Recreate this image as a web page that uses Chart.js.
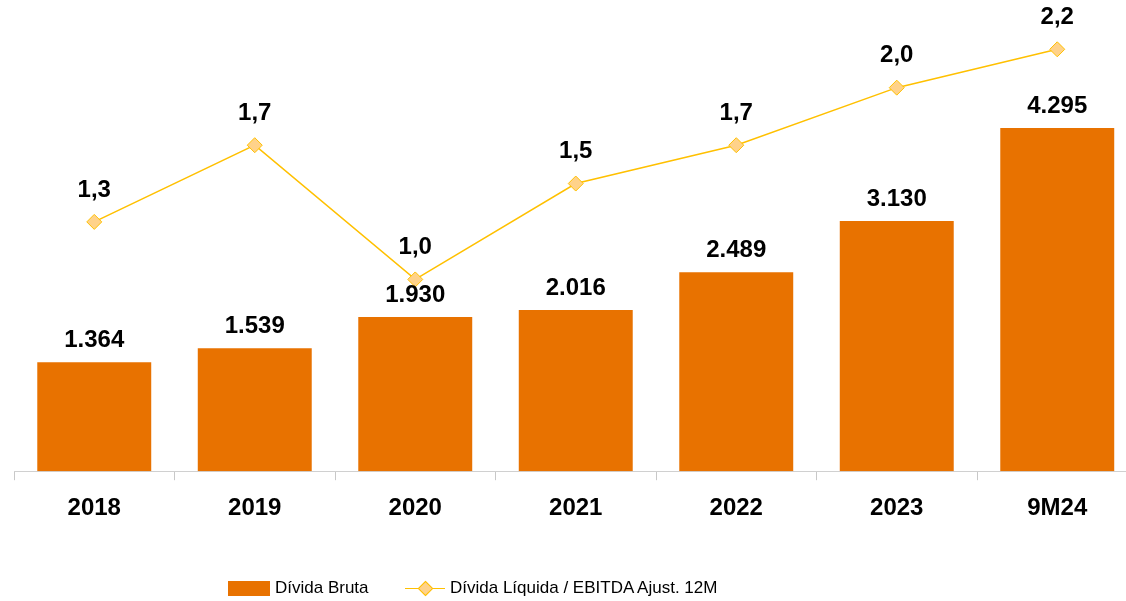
<!DOCTYPE html>
<html>
<head>
<meta charset="utf-8">
<script src="https://cdn.jsdelivr.net/npm/chart.js@4.4.1/dist/chart.umd.min.js"></script>
<style>
  html, body { margin: 0; padding: 0; background: #fff; overflow: hidden; }
  #wrap { position: relative; width: 1146px; height: 601px; }
  #legend { position: absolute; left: 0; top: 576px; width: 1126px; height: 24px;
            font-family: "Liberation Sans", Arial, sans-serif; font-size: 17px; color: #000; }
  .item { position: absolute; top: 0; height: 24px; line-height: 24px; white-space: nowrap; }
  .box { position: absolute; top: 5px; width: 42px; height: 15px; background: #E87200; }
  .ln { position: absolute; top: 11.5px; width: 40px; height: 1.5px; background: #FFC000; }
  .dm { position: absolute; top: 7px; width: 9px; height: 9px; background: #FFD28A; border: 1px solid #FFC000; transform: rotate(45deg); }
</style>
</head>
<body>
<div id="wrap">
  <canvas id="c" width="1146" height="601"></canvas>
  <div id="legend">
    <div class="item" style="left:228px;"><span class="box" style="left:0"></span><span style="position:absolute;left:47px;">Dívida Bruta</span></div>
    <div class="item" style="left:405px;"><span class="ln" style="left:0"></span><span class="dm" style="left:14.5px"></span><span style="position:absolute;left:45px;">Dívida Líquida / EBITDA Ajust. 12M</span></div>
  </div>
</div>
<script>
const categories = ["2018", "2019", "2020", "2021", "2022", "2023", "9M24"];
const dividaBruta = [1364, 1539, 1930, 2016, 2489, 3130, 4295];
const dividaLiquidaEbitda = [1.3, 1.7, 1.0, 1.5, 1.7, 2.0, 2.2];
const barLabels = ["1.364", "1.539", "1.930", "2.016", "2.489", "3.130", "4.295"];
const lineLabels = ["1,3", "1,7", "1,0", "1,5", "1,7", "2,0", "2,2"];

const FONT = '"Liberation Sans", Arial, sans-serif';

const labelPlugin = {
  id: 'valueLabels',
  afterDatasetsDraw(chart) {
    const ctx = chart.ctx;
    ctx.save();
    ctx.font = 'bold 24px ' + FONT;
    ctx.fillStyle = '#000';
    ctx.textAlign = 'center';
    ctx.textBaseline = 'middle';
    const barMeta = chart.getDatasetMeta(1);
    barMeta.data.forEach((el, i) => {
      ctx.fillText(barLabels[i], el.x, el.y - 22);
    });
    const lineMeta = chart.getDatasetMeta(0);
    lineMeta.data.forEach((el, i) => {
      ctx.fillText(lineLabels[i], el.x, el.y - 32);
    });
    ctx.restore();
  }
};

new Chart(document.getElementById('c'), {
  data: {
    labels: categories,
    datasets: [
      {
        type: 'line',
        label: 'Dívida Líquida / EBITDA Ajust. 12M',
        data: dividaLiquidaEbitda,
        yAxisID: 'y1',
        borderColor: '#FFC000',
        borderWidth: 1.5,
        pointStyle: 'rectRot',
        pointRadius: 7.5,
        pointBackgroundColor: '#FFD28A',
        pointBorderColor: '#FFC000',
        pointBorderWidth: 1,
        tension: 0,
        order: 0
      },
      {
        type: 'bar',
        label: 'Dívida Bruta',
        data: dividaBruta,
        yAxisID: 'y',
        backgroundColor: '#E87200',
        barPercentage: 0.71,
        categoryPercentage: 1.0,
        order: 1
      }
    ]
  },
  options: {
    responsive: false,
    animation: false,
    layout: { padding: { top: 10, left: 14, right: 3, bottom: 64 } },
    plugins: { legend: { display: false }, tooltip: { enabled: false } },
    scales: {
      x: {
        offset: true,
        grid: { offset: true, drawOnChartArea: false, drawTicks: true, tickLength: 9, color: '#C8C8C8', lineWidth: 1 },
        border: { display: true, color: '#D0D0D0', width: 1 },
        ticks: { color: '#000', font: { family: FONT, size: 24, weight: 'bold' }, padding: 14, maxRotation: 0 }
      },
      y: { display: false, min: 0, max: 5770 },
      y1: { display: false, min: 0, max: 2.405, position: 'right' }
    }
  },
  plugins: [labelPlugin]
});
</script>
</body>
</html>
